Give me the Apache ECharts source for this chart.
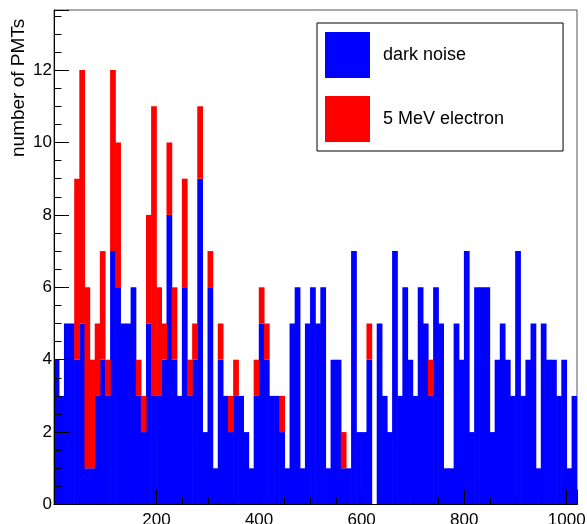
<!DOCTYPE html>
<html>
<head>
<meta charset="utf-8">
<script src="https://cdn.jsdelivr.net/npm/echarts@6/dist/echarts.min.js"></script>
<style>
html,body{margin:0;padding:0;background:#fff;}
#chart{width:587px;height:524px;}
</style>
</head>
<body>
<div id="chart"></div>
<script>
// Bin low edges (bin width 10)
const binStarts = [];
for (let i = 0; i < 102; i++) binStarts.push(String(i * 10));

const darkNoise = [
  4,3,5,5,4,5,1,1,3,4,
  3,7,6,5,5,6,3,2,5,3,
  3,4,8,4,3,6,3,4,9,2,
  6,1,4,3,2,3,3,2,1,3,
  5,4,3,3,2,1,5,6,1,5,
  6,5,6,1,4,4,1,1,7,2,
  2,4,0,5,3,2,7,3,6,4,
  3,6,5,3,6,5,1,1,5,4,
  7,2,6,6,6,2,4,5,4,3,
  7,3,4,5,1,5,4,4,3,4,
  1,3
];
const electron = [
  0,0,0,0,5,7,5,3,2,3,
  1,5,4,0,0,0,1,1,3,8,
  3,1,2,2,0,3,1,1,2,0,
  1,0,1,0,1,1,0,0,0,1,
  1,1,0,0,1,0,0,0,0,0,
  0,0,0,0,0,0,1,0,0,0,
  0,1,0,0,0,0,0,0,0,0,
  0,0,0,1,0,0,0,0,0,0,
  0,0,0,0,0,0,0,0,0,0,
  0,0,0,0,0,0,0,0,0,0,
  0,0
];
const xMajorLabels = [200, 400, 600, 800, 1000];
const yMajorLabels = [0, 2, 4, 6, 8, 10, 12];
const seriesNames = ['dark noise', '5 MeV electron'];
const yTitle = 'number of PMTs';

const FONT = "'Liberation Sans', Arial, sans-serif";
const X_MAX = 1020, Y_MAX = 13.66;

// empty bins are not drawn (avoids outline slivers)
const asBars = arr => arr.map(v => (v === 0 ? null : v));

const chart = echarts.init(document.getElementById('chart'), null, {renderer: 'canvas'});
chart.setOption({
  backgroundColor: '#ffffff',
  animation: false,
  grid: {
    left: 54, right: 10, top: 10, bottom: 19.5,
    show: true, borderColor: '#555', borderWidth: 1,
    containLabel: false, outerBoundsMode: 'none'
  },
  legend: {
    orient: 'vertical', left: 317, top: 23,
    padding: [9, 59, 9, 8],
    borderColor: '#000', borderWidth: 1, backgroundColor: '#fff',
    itemWidth: 45, itemHeight: 46, itemGap: 18,
    icon: 'rect',
    itemStyle: {borderWidth: 0},
    textStyle: {fontFamily: FONT, fontSize: 18, color: '#000', padding: [0, 0, 0, 8]},
    data: seriesNames
  },
  graphic: [{
    type: 'text', x: 19, y: 157, rotation: Math.PI / 2,
    style: {text: yTitle, fontFamily: FONT, fontSize: 19, fill: '#000', align: 'left', verticalAlign: 'middle'}
  }],
  xAxis: [
    {type: 'category', data: binStarts, boundaryGap: true, show: false, gridIndex: 0},
    {type: 'value', min: 0, max: X_MAX, interval: 200, position: 'bottom', z: 5,
     axisLine: {show: true, lineStyle: {color: '#000', width: 1}},
     axisTick: {show: true, inside: true, length: 15, lineStyle: {color: '#000'}},
     splitLine: {show: false},
     axisLabel: {show: true, margin: 7, fontFamily: FONT, fontSize: 17, color: '#000',
       formatter: v => xMajorLabels.includes(v) ? String(v) : ''}},
    {type: 'value', min: 0, max: X_MAX, interval: 50, position: 'bottom', z: 5,
     axisLine: {show: false},
     axisTick: {show: true, inside: true, length: 7.5, lineStyle: {color: '#000'}},
     splitLine: {show: false}, axisLabel: {show: false}}
  ],
  yAxis: [
    {type: 'value', min: 0, max: Y_MAX, interval: 2, position: 'left', z: 5,
     axisLine: {show: true, lineStyle: {color: '#000', width: 1}},
     axisTick: {show: true, inside: true, length: 15, lineStyle: {color: '#000'}},
     splitLine: {show: false},
     axisLabel: {show: true, margin: 2, fontFamily: FONT, fontSize: 17, color: '#000',
       formatter: v => yMajorLabels.includes(v) ? String(v) : ''}},
    {type: 'value', min: 0, max: Y_MAX, interval: 0.5, position: 'left', z: 5,
     axisLine: {show: false},
     axisTick: {show: true, inside: true, length: 7.5, lineStyle: {color: '#000'}},
     splitLine: {show: false}, axisLabel: {show: false}}
  ],
  series: [
    {name: seriesNames[0], type: 'bar', stack: 'h', xAxisIndex: 0, yAxisIndex: 0,
     data: asBars(darkNoise), barWidth: '112%', barGap: '-100%', barCategoryGap: '0%',
     itemStyle: {color: '#0000ff', borderWidth: 0},
     emphasis: {disabled: true}},
    {name: seriesNames[1], type: 'bar', stack: 'h', xAxisIndex: 0, yAxisIndex: 0,
     data: asBars(electron), barWidth: '112%', barGap: '-100%', barCategoryGap: '0%',
     itemStyle: {color: '#ff0000', borderWidth: 0},
     emphasis: {disabled: true}}
  ]
});
</script>
</body>
</html>
